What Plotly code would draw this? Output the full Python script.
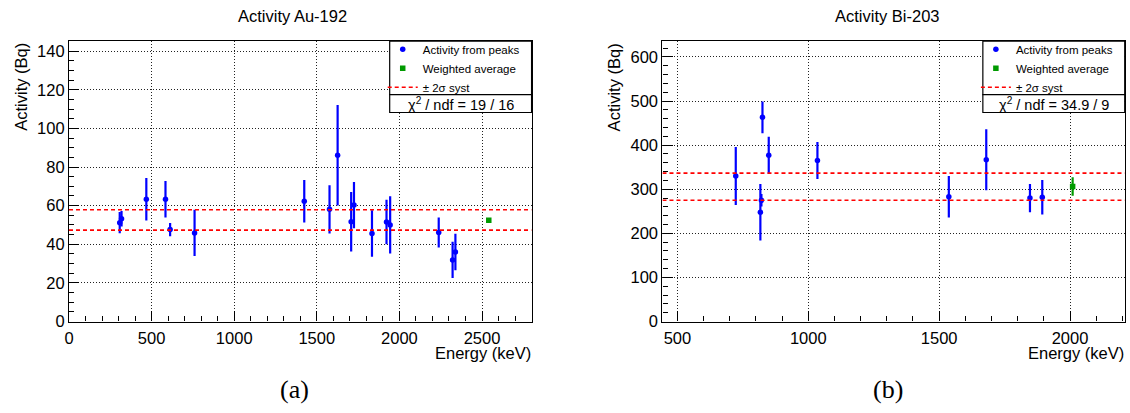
import plotly.graph_objects as go

# ---------------- data: Au-192 ----------------
au_energy = [307, 318, 468, 584, 612, 760, 1424, 1577, 1626, 1708, 1725, 1834, 1922, 1944, 2238, 2322, 2339]
au_activity = [51.2, 53.2, 63.3, 63.3, 47.6, 45.9, 62.3, 58.1, 86.1, 51.7, 60.3, 45.6, 51.5, 50.0, 46.1, 31.9, 36.0]
au_error = [5.5, 4.0, 11.0, 9.4, 3.4, 12.0, 11.0, 12.5, 26.0, 15.4, 12.0, 12.0, 11.5, 14.8, 7.8, 9.4, 9.4]
au_avg_energy = [2541]
au_avg = [52.5]
au_avg_err = [1.0]
au_syst = [47.3, 57.9]
au_xrange = [0, 2800]
au_yrange = [0, 145.2]
au_chi2 = "19 / 16"

# ---------------- data: Bi-203 ----------------
bi_energy = [723, 817, 821, 825, 849, 1035, 1537, 1680, 1847, 1894]
bi_activity = [330, 248, 275, 463, 377, 365, 283, 367, 280, 282]
bi_error = [66, 64, 14, 36, 42, 42, 47, 69, 32, 39]
bi_avg_energy = [2010]
bi_avg = [306]
bi_avg_err = [21]
bi_syst = [275, 336.5]
bi_xrange = [443, 2209]
bi_yrange = [0, 636]
bi_chi2 = "34.9 / 9"

W, H = 1130, 413
FONT = "Liberation Sans, Arial, Helvetica, sans-serif"
SERIF = "Liberation Serif, DejaVu Serif, serif"
BLUE = "#0000ff"
GREEN = "#009a00"
RED = "#ff0000"
FS = 16.5

fig = go.Figure()


def add_panel(xa, ya, leg, energy, act, err, aen, aval, aerr, syst, xr):
    fig.add_trace(go.Scatter(
        x=energy, y=act, mode="markers", name="Activity from peaks",
        marker=dict(color=BLUE, size=5.5, symbol="circle"),
        error_y=dict(type="data", array=err, visible=True, color=BLUE, thickness=2.2, width=0),
        xaxis=xa, yaxis=ya, legend=leg))
    fig.add_trace(go.Scatter(
        x=aen, y=aval, mode="markers", name="Weighted average",
        marker=dict(color=GREEN, size=5.5, symbol="square"),
        error_y=dict(type="data", array=aerr, visible=True, color=GREEN, thickness=2.2, width=0),
        xaxis=xa, yaxis=ya, legend=leg))
    lx, ly = [], []
    for v in syst:
        lx += [xr[0], xr[1], None]
        ly += [v, v, None]
    fig.add_trace(go.Scatter(
        x=lx, y=ly, mode="lines", name="± 2σ syst",
        line=dict(color=RED, width=1.6, dash="4px,3px"),
        xaxis=xa, yaxis=ya, legend=leg))


add_panel("x", "y", "legend", au_energy, au_activity, au_error, au_avg_energy, au_avg, au_avg_err, au_syst, au_xrange)
add_panel("x2", "y2", "legend2", bi_energy, bi_activity, bi_error, bi_avg_energy, bi_avg, bi_avg_err, bi_syst, bi_xrange)

TOP, BOT = 42, 328.7
ydom = [(H - BOT) / H, (H - TOP) / H]
xdom1 = [64.3 / W, 528.9 / W]
xdom2 = [660.4 / W, 1124.7 / W]


def py(p):
    return (H - p) / H


axis_common = dict(
    showline=True, mirror=True, linecolor="black", linewidth=1.3,
    ticks="inside", tickcolor="black", tickwidth=1, ticklen=10,
    showgrid=True, gridcolor="#222222", griddash="1px,2px", gridwidth=1,
    zeroline=False, tickfont=dict(family=FONT, size=FS, color="black"),
)
minor_common = dict(ticks="inside", ticklen=5, tickcolor="black", showgrid=False)

leg_common = dict(xanchor="left", yanchor="top", bgcolor="rgba(0,0,0,0)", borderwidth=0,
                  font=dict(family=FONT, size=11.5), itemwidth=30, tracegroupgap=0)

fig.update_layout(
    width=W, height=H,
    margin=dict(l=0, r=0, t=0, b=0),
    paper_bgcolor="white", plot_bgcolor="white",
    font=dict(family=FONT, color="black"),
    xaxis=dict(domain=xdom1, range=au_xrange, dtick=500, tick0=0, ticklabelstandoff=2,
               minor=dict(dtick=100, **minor_common), anchor="y", **axis_common),
    yaxis=dict(domain=ydom, range=au_yrange, dtick=20, tick0=0,
               minor=dict(dtick=5, **minor_common), anchor="x", **axis_common),
    xaxis2=dict(domain=xdom2, range=bi_xrange, dtick=500, tick0=0, ticklabelstandoff=2,
                minor=dict(dtick=100, **minor_common), anchor="y2", **axis_common),
    yaxis2=dict(domain=ydom, range=bi_yrange, dtick=100, tick0=0,
                minor=dict(dtick=20, **minor_common), anchor="x2", **axis_common),
    legend=dict(x=(386.4 - 7) / W, y=py(35.5), **leg_common),
    legend2=dict(x=(982.2 - 7) / W, y=py(35.5), **leg_common),
)

shapes = []
ann = []
panels = [
    (xdom1, 386.4, "Activity Au-192", 289, au_chi2, 15.7, "(a)", 290.5),
    (xdom2, 982.2, "Activity Bi-203", 886.5, bi_chi2, 612, "(b)", 887),
]
for (xd, legl, title, tcx, chi2, ytx, cap, capx) in panels:
    right = xd[1] * W
    # legend frame
    shapes.append(dict(type="rect", xref="paper", yref="paper", layer="above",
                       x0=legl / W, x1=xd[1], y0=py(96.7), y1=py(TOP),
                       line=dict(color="black", width=1.2), fillcolor="white"))
    # chi2 box
    shapes.append(dict(type="rect", xref="paper", yref="paper", layer="above",
                       x0=legl / W, x1=xd[1], y0=py(115), y1=py(96.7),
                       line=dict(color="black", width=1.2), fillcolor="white"))
    ann.append(dict(text="χ<sup>2</sup> / ndf = " + chi2, x=(legl + right) / 2 / W, y=py(106.5),
                    xref="paper", yref="paper", xanchor="center", yanchor="middle",
                    showarrow=False, font=dict(family=FONT, size=14.5)))
    ann.append(dict(text=title, x=tcx / W, y=py(16.7),
                    xref="paper", yref="paper", xanchor="center", yanchor="middle",
                    showarrow=False, font=dict(family=FONT, size=FS)))
    ann.append(dict(text="Activity (Bq)", x=ytx / W, y=py(TOP), xref="paper", yref="paper",
                    xanchor="center", yanchor="top", textangle=-90, showarrow=False,
                    font=dict(family=FONT, size=FS)))
    ann.append(dict(text="Energy (keV)", x=xd[1], y=py(361), xref="paper", yref="paper",
                    xanchor="right", yanchor="middle", showarrow=False, borderpad=0,
                    font=dict(family=FONT, size=16.5)))
    ann.append(dict(text=cap, x=capx / W, y=py(398),
                    xref="paper", yref="paper", xanchor="center", yanchor="middle",
                    showarrow=False, font=dict(family=SERIF, size=26)))
fig.update_layout(annotations=ann, shapes=shapes)

fig.write_html("out.html", config={"displayModeBar": False},
               post_script="document.body.style.margin='0';document.body.style.overflow='hidden';")
